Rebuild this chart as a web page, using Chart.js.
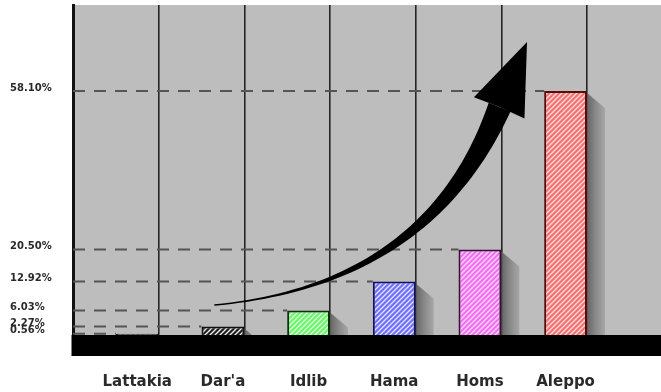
<!DOCTYPE html>
<html>
<head>
<meta charset="utf-8">
<script src="https://cdn.jsdelivr.net/npm/chart.js@4"></script>
<style>
  html, body { margin: 0; padding: 0; background: #fff; }
  canvas { display: block; }
</style>
</head>
<body>
<canvas id="chart" width="661" height="392"></canvas>
<script>
// data
const cities = ["Lattakia", "Dar'a", "Idlib", "Hama", "Homs", "Aleppo"];
const shares = [0.56, 2.27, 6.03, 12.92, 20.5, 58.1];
const yTickValues = [0.56, 2.27, 6.03, 12.92, 20.5, 58.1];

// arrow drawn in data units: [x slot, y %]
const arrowStart = [1.65, 7.35];
const arrowCtrl = [4.15, 12.1];
const arrowEnd = [4.98, 54.3];
const arrowTip = [5.3, 69.7];
const arrowWingL = [4.68, 56.6];
const arrowWingR = [5.27, 51.6];

const Y_MAX = 78.5;
const X_MAX = 6.864;

// styles
const baseColors = ["#7a7a7a", "#1e1e1e", "#6af56a", "#7070ff", "#f070f0", "#f27272"];
const stripeColors = ["#d8d8d8", "#f2f2f2", "#dcffdc", "#e4e4ff", "#ffd6ff", "#ffdada"];
const borderColors = ["#222", "#111", "#0c300c", "#12125e", "#3c0c3c", "#5a0c0c"];

const canvas = document.getElementById("chart");
const ctx = canvas.getContext("2d");

function hatch(base, stripe) {
  const c = document.createElement("canvas");
  c.width = 5; c.height = 5;
  const g = c.getContext("2d");
  g.fillStyle = base;
  g.fillRect(0, 0, 5, 5);
  g.strokeStyle = stripe;
  g.lineWidth = 1.3;
  g.beginPath();
  g.moveTo(-1, 6); g.lineTo(6, -1);
  g.moveTo(-3, 3); g.lineTo(3, -3);
  g.moveTo(2, 8); g.lineTo(8, 2);
  g.stroke();
  return ctx.createPattern(c, "repeat");
}

const fills = baseColors.map((b, i) => hatch(b, stripeColors[i]));

// bar sits in the right half of each slot
const barData = shares.map((v, i) => ({ x: i + 0.75, y: v }));

const backdrop = {
  id: "backdrop",
  beforeDraw(chart) {
    const { ctx, chartArea: a } = chart;
    ctx.save();
    ctx.fillStyle = "#bdbdbd";
    ctx.fillRect(a.left, a.top, a.right - a.left, a.bottom - a.top);
    ctx.restore();
  },
  beforeDatasetsDraw(chart) {
    const { ctx, chartArea: a } = chart;
    const bars = chart.getDatasetMeta(0).data;
    ctx.save();
    // soft shadows to the right of every bar
    bars.forEach((b) => {
      const r = b.x + b.width / 2;
      const grad = ctx.createLinearGradient(r, 0, r + 18, 0);
      grad.addColorStop(0, "rgba(90,90,90,0.9)");
      grad.addColorStop(1, "rgba(130,130,130,0.4)");
      ctx.fillStyle = grad;
      ctx.beginPath();
      ctx.moveTo(r, b.y + 2);
      ctx.lineTo(r + 18, b.y + 17);
      ctx.lineTo(r + 18, a.bottom);
      ctx.lineTo(r, a.bottom);
      ctx.closePath();
      ctx.fill();
    });
    // dashed level lines up to each bar
    ctx.strokeStyle = "#555";
    ctx.lineWidth = 2;
    ctx.setLineDash([12, 9]);
    bars.forEach((b) => {
      ctx.beginPath();
      ctx.moveTo(a.left, b.y);
      ctx.lineTo(b.x - b.width / 2, b.y);
      ctx.stroke();
    });
    ctx.restore();
  },
  afterDatasetsDraw(chart) {
    const { ctx, chartArea: a, scales } = chart;
    const px = (p) => [scales.x.getPixelForValue(p[0]), scales.y.getPixelForValue(p[1])];
    ctx.save();
    // black base band
    ctx.fillStyle = "#000";
    ctx.fillRect(a.left - 1.5, a.bottom - 1, a.right - a.left + 1.5, 21);

    // growing arrow: quadratic curve, thin at start, thick at the head
    const p0 = px(arrowStart), c = px(arrowCtrl), p2 = px(arrowEnd);
    const left = [], right = [];
    const n = 50;
    for (let k = 0; k <= n; k++) {
      const t = k / n;
      const x = (1 - t) * (1 - t) * p0[0] + 2 * t * (1 - t) * c[0] + t * t * p2[0];
      const y = (1 - t) * (1 - t) * p0[1] + 2 * t * (1 - t) * c[1] + t * t * p2[1];
      const dx = 2 * (1 - t) * (c[0] - p0[0]) + 2 * t * (p2[0] - c[0]);
      const dy = 2 * (1 - t) * (c[1] - p0[1]) + 2 * t * (p2[1] - c[1]);
      const len = Math.hypot(dx, dy) || 1;
      const w = (1.5 + 22 * Math.pow(t, 1.8)) / 2;
      left.push([x - (dy / len) * w, y + (dx / len) * w]);
      right.push([x + (dy / len) * w, y - (dx / len) * w]);
    }
    ctx.fillStyle = "#000";
    ctx.beginPath();
    left.forEach((p, i) => (i ? ctx.lineTo(p[0], p[1]) : ctx.moveTo(p[0], p[1])));
    right.reverse().forEach((p) => ctx.lineTo(p[0], p[1]));
    ctx.closePath();
    ctx.fill();

    const tip = px(arrowTip), wl = px(arrowWingL), wr = px(arrowWingR);
    ctx.beginPath();
    ctx.moveTo(tip[0], tip[1]);
    ctx.lineTo(wl[0], wl[1]);
    ctx.lineTo(p2[0], p2[1]);
    ctx.lineTo(wr[0], wr[1]);
    ctx.closePath();
    ctx.fill();
    ctx.restore();
  },
};

new Chart(ctx, {
  type: "bar",
  data: {
    datasets: [{
      data: barData,
      backgroundColor: fills,
      borderColor: borderColors,
      borderWidth: 2,
      barPercentage: 0.5,
      categoryPercentage: 1,
    }],
  },
  options: {
    responsive: false,
    animation: false,
    devicePixelRatio: 1,
    layout: { padding: { top: 5, left: 10, right: 0, bottom: 0 } },
    plugins: { legend: { display: false }, tooltip: { enabled: false } },
    scales: {
      x: {
        type: "linear",
        min: 0,
        max: X_MAX,
        offset: false,
        afterBuildTicks: (s) => { s.ticks = cities.map((_, i) => ({ value: i + 1 })); },
        afterFit: (s) => { s.height = 0; },
        ticks: { display: false },
        grid: { offset: false, color: "#262626", lineWidth: 1.6, drawTicks: false },
        border: { display: false },
      },
      x2: {
        type: "linear",
        position: "bottom",
        min: 0,
        max: X_MAX,
        offset: false,
        afterBuildTicks: (s) => { s.ticks = cities.map((_, i) => ({ value: i + 0.75 })); },
        afterFit: (s) => { s.height = 56; s.paddingLeft = 0; s.paddingRight = 0; },
        grid: { display: false },
        border: { display: false },
        ticks: {
          autoSkip: false,
          maxRotation: 0,
          padding: 29,
          color: "#2a2a2a",
          font: { family: "'DejaVu Sans'", size: 15, weight: "bold" },
          callback: (v, i) => cities[i],
        },
      },
      y: {
        min: 0,
        max: Y_MAX,
        afterBuildTicks: (s) => { s.ticks = yTickValues.map((v) => ({ value: v })); },
        afterFit: (s) => { s.width = 63; s.paddingTop = 0; s.paddingBottom = 0; },
        grid: { display: false },
        border: { display: true, color: "#111", width: 3 },
        ticks: {
          autoSkip: false,
          crossAlign: "far",
          labelOffset: -3,
          color: "#2a2a2a",
          font: { family: "'DejaVu Sans'", size: 10, weight: "bold" },
          callback: (v) => Number(v).toFixed(2) + "%",
        },
      },
    },
  },
  plugins: [backdrop],
});
</script>
</body>
</html>
